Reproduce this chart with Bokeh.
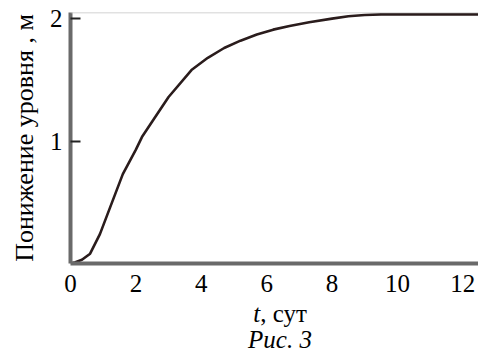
from bokeh.plotting import figure
from bokeh.embed import file_html
from bokeh.resources import INLINE
from bokeh.layouts import column
from bokeh.models import FixedTicker, Range1d, Span, Div

# Data
t_days = [0.0, 0.15, 0.35, 0.6, 0.9, 1.2, 1.6, 2.0, 2.2, 2.5, 3.0, 3.7, 4.2, 4.7,
          5.2, 5.7, 6.2, 6.7, 7.3, 8.0, 8.5, 9.0, 9.5, 10.0, 11.0, 12.5]
drawdown_m = [0.0, 0.01, 0.03, 0.08, 0.24, 0.45, 0.73, 0.93, 1.04, 1.16, 1.36, 1.58,
              1.68, 1.76, 1.82, 1.87, 1.91, 1.94, 1.97, 2.0, 2.02, 2.03, 2.035, 2.035,
              2.035, 2.035]
x_ticks = [0, 2, 4, 6, 8, 10, 12]
y_ticks = [1, 2]

FONT = "Liberation Serif"

p = figure(width=478, height=300, output_backend="svg", toolbar_location=None,
           x_range=Range1d(0, 12.48), y_range=Range1d(0, 2.05),
           min_border_left=70, min_border_right=0, min_border_top=12,
           min_border_bottom=37)
p.outline_line_color = None
p.xgrid.grid_line_color = None
p.ygrid.grid_line_color = None
p.background_fill_color = "white"

p.line(t_days, drawdown_m, line_color="#2a1c1c", line_width=2.6)

# thin top border line
p.add_layout(Span(location=2.05, dimension="width", line_color="#c4c4c4", line_width=1.5))

for ax in (p.xaxis[0], p.yaxis[0]):
    ax.axis_line_color = "#6a6a6a"
    ax.axis_line_width = 4
    ax.major_label_text_font = FONT
    ax.major_label_text_font_size = "25px"
    ax.major_label_text_color = "black"
    ax.minor_tick_line_color = None

p.xaxis.ticker = FixedTicker(ticks=x_ticks)
p.xaxis.major_tick_line_color = None
p.xaxis.major_label_standoff = 5

p.yaxis.ticker = FixedTicker(ticks=y_ticks)
p.yaxis.major_tick_in = 10
p.yaxis.major_tick_out = 0
p.yaxis.major_tick_line_color = "#222222"
p.yaxis.major_tick_line_width = 2
p.yaxis.major_label_standoff = 8
p.yaxis.axis_label = "Понижение уровня , м"
p.yaxis.axis_label_text_font = FONT
p.yaxis.axis_label_text_font_size = "26px"
p.yaxis.axis_label_text_font_style = "normal"
p.yaxis.axis_label_text_color = "black"
p.yaxis.axis_label_standoff = 8

caption = Div(
    text=('<div style="width:478px;box-sizing:border-box;padding-left:82px;padding-top:1px;'
          'text-align:center;font-family:\'Liberation Serif\';font-size:25px;'
          'line-height:26px;color:black;">'
          '<i>t</i>, сут<br><i>Рис. 3</i></div>'),
    width=478, height=53, margin=(0, 0, 0, 0))

layout = column(p, caption, spacing=0)

open("out.html", "w").write(file_html(layout, INLINE))
